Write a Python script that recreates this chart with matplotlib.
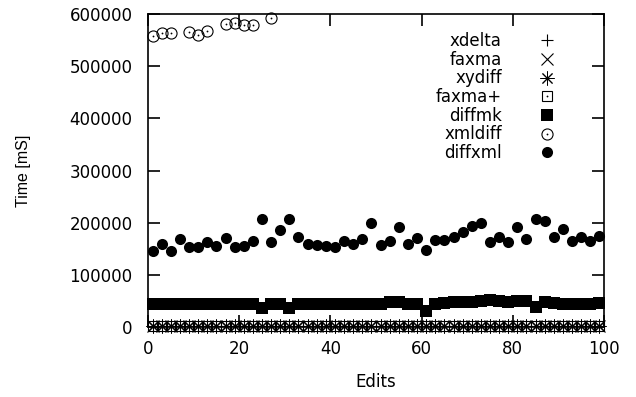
import matplotlib
matplotlib.use("Agg")
import matplotlib.pyplot as plt
from matplotlib.legend_handler import HandlerTuple

plt.rcParams['font.family'] = ['DejaVu Sans']

edits = list(range(1, 100, 2))

xdelta = [1000] * 50
faxma = [1000] * 50
xydiff = [1000] * 50
faxma_plus = [1000] * 50

diffmk = [45000, 45000, 45000, 45000, 45000, 45000, 45000, 45000, 45000, 45000,
          45000, 45000, 37000, 45000, 45000, 37000, 45000, 45000, 45000, 45000,
          45000, 45000, 45000, 45000, 45000, 45000, 47000, 47000, 45000, 45000,
          30000, 44000, 46000, 47000, 47000, 48000, 49000, 51000, 50000, 48000,
          49000, 50000, 38000, 47000, 46000, 45000, 44000, 45000, 45000, 46000]

xmldiff_x = [1, 3, 5, 9, 11, 13, 17, 19, 21, 23, 27]
xmldiff = [558000, 563000, 563000, 566000, 560000, 567000, 581000, 582000, 579000, 579000, 592000]

diffxml = [146000, 160000, 145000, 168000, 153000, 153000, 162000, 155000, 170000, 153000,
           155000, 165000, 207000, 163000, 185000, 207000, 173000, 160000, 157000, 155000,
           153000, 165000, 160000, 168000, 200000, 158000, 165000, 192000, 160000, 170000,
           147000, 167000, 167000, 172000, 183000, 193000, 200000, 162000, 172000, 163000,
           192000, 168000, 207000, 203000, 172000, 188000, 165000, 172000, 165000, 175000]

FS = 12
fig = plt.figure(figsize=(6.36, 3.97), dpi=100)
ax = fig.add_axes([148/636, 1-327/397, (604-148)/636, (327-14)/397])

ms = 8
kw = dict(ls='none', color='black', clip_on=False)
h_xdelta, = ax.plot(edits, xdelta, marker='+', ms=ms, mew=0.8, **kw)
h_faxma, = ax.plot(edits, faxma, marker='x', ms=ms, mew=0.8, **kw)
h_xydiff, = ax.plot(edits, xydiff, marker=(8, 2, 0), ms=ms*1.25, mew=0.7, **kw)
h_fp1, = ax.plot(edits, faxma_plus, marker='s', ms=ms*0.95, mew=0.8, mfc='none', **kw)
h_fp2, = ax.plot(edits, faxma_plus, marker='o', ms=1.3, mew=0, **kw)
h_dmk, = ax.plot(edits, diffmk, marker='s', ms=ms, mew=0, **kw)
h_xd1, = ax.plot(xmldiff_x, xmldiff, marker='o', ms=ms, mew=0.8, mfc='none', **kw)
h_xd2, = ax.plot(xmldiff_x, xmldiff, marker='o', ms=1.3, mew=0, **kw)
h_dx, = ax.plot(edits, diffxml, marker='o', ms=ms, mew=0, **kw)

ax.set_xlim(0, 100)
ax.set_ylim(0, 600000)
ax.set_xticks([0, 20, 40, 60, 80, 100])
ax.set_yticks([0, 100000, 200000, 300000, 400000, 500000, 600000])
ax.tick_params(direction='in', length=8.5, width=1.2, top=True, right=True,
               labelsize=FS, colors='black')
ax.tick_params(axis='y', pad=11)
ax.tick_params(axis='x', pad=9)
for s in ax.spines.values():
    s.set_linewidth(1.2)
ax.set_xlabel('Edits', fontsize=FS, labelpad=11)
ax.set_ylabel('Time [mS]', fontsize=11.5, labelpad=28, family='Liberation Sans')

leg = ax.legend([h_xdelta, h_faxma, h_xydiff, (h_fp1, h_fp2), h_dmk, (h_xd1, h_xd2), h_dx],
                ['xdelta', 'faxma', 'xydiff', 'faxma+', 'diffmk', 'xmldiff', 'diffxml'],
                handler_map={tuple: HandlerTuple(ndivide=1, pad=0)},
                markerfirst=False, frameon=False, fontsize=FS, loc='upper right',
                bbox_to_anchor=(0.8925, 0.942), handlelength=1.0, handletextpad=2.2,
                labelspacing=0.04, borderpad=0, borderaxespad=0)

fig.savefig('out.png', dpi=100)
